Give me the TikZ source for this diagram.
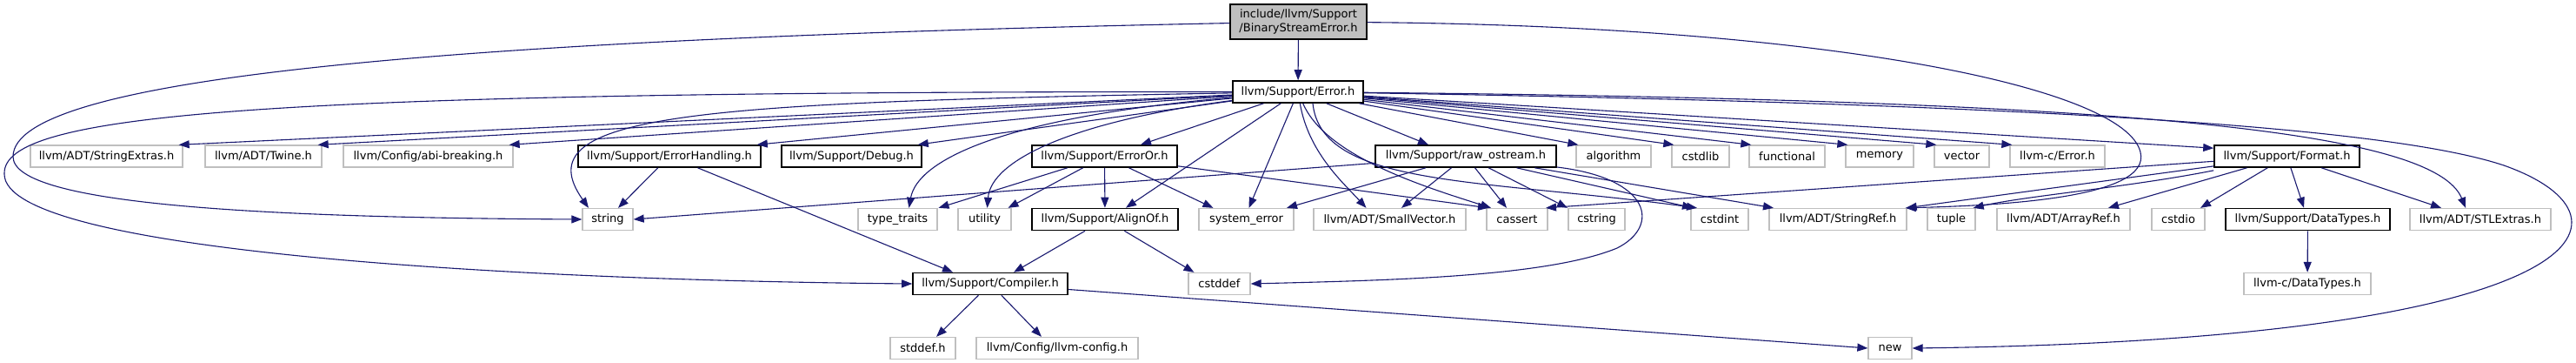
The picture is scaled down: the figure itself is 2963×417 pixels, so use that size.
\documentclass[tikz,border=0pt]{standalone}
\usepackage{fontspec}
\setmainfont{DejaVu Sans}
\usetikzlibrary{arrows.meta}
\definecolor{edgec}{HTML}{191970}
\definecolor{gborder}{HTML}{BFBFBF}
\begin{document}
\begin{tikzpicture}[x=1pt,y=-1pt,
  box/.style={draw=gborder,line width=1.3pt,fill=white,minimum height=25pt,inner sep=0pt,font=\fontsize{13}{16}\selectfont},
  bbox/.style={box,draw=black,line width=1.6pt},
  edge/.style={draw=edgec,line width=1.1pt,-{Triangle[length=12pt,width=9pt]}}]
\fill[white] (0,0) rectangle (2963,417);
\useasboundingbox (0,0) rectangle (2963,417);
% row 0
\node[bbox,fill=gborder,minimum width=157pt,minimum height=40pt,align=center] (bse) at (1493.5,25) {include/llvm/Support\\/BinaryStreamError.h};
\node[bbox,minimum width=150pt] (err) at (1493,105.5) {llvm/Support/Error.h};
% row 1
\node[box,minimum width=175pt] (strext) at (122.5,179.5) {llvm/ADT/StringExtras.h};
\node[box,minimum width=134pt] (twine) at (303,179.5) {llvm/ADT/Twine.h};
\node[box,minimum width=195pt] (abi) at (492.5,179.5) {llvm/Config/abi-breaking.h};
\node[bbox,minimum width=210pt] (errh) at (770,179.5) {llvm/Support/ErrorHandling.h};
\node[bbox,minimum width=161pt] (debug) at (979.5,179.5) {llvm/Support/Debug.h};
\node[bbox,minimum width=167pt] (erroror) at (1270.5,179.5) {llvm/Support/ErrorOr.h};
\node[bbox,minimum width=208pt] (rawos) at (1686,179.5) {llvm/Support/raw\_ostream.h};
\node[box,minimum width=86pt] (algorithm) at (1856,179.5) {algorithm};
\node[box,minimum width=66pt] (cstdlib) at (1956,179.5) {cstdlib};
\node[box,minimum width=87pt] (functional) at (2055.5,179.5) {functional};
\node[box,minimum width=78pt] (memory) at (2162,179.5) {memory};
\node[box,minimum width=63pt] (vector) at (2256.5,179.5) {vector};
\node[box,minimum width=109pt] (lcerror) at (2366.5,179.5) {llvm-c/Error.h};
\node[bbox,minimum width=167pt] (format) at (2630.5,179.5) {llvm/Support/Format.h};
% row 2
\node[box,minimum width=58pt] (string) at (699,252) {string};
\node[box,minimum width=91pt] (typetraits) at (1032.5,252) {type\_traits};
\node[box,minimum width=61pt] (utility) at (1132.5,252) {utility};
\node[bbox,minimum width=168pt] (alignof) at (1271,252) {llvm/Support/AlignOf.h};
\node[box,minimum width=109pt] (syserr) at (1433.5,252) {system\_error};
\node[box,minimum width=175pt] (smallvec) at (1598.5,252) {llvm/ADT/SmallVector.h};
\node[box,minimum width=70pt] (cassert) at (1745,252) {cassert};
\node[box,minimum width=65pt] (cstring) at (1836.5,252) {cstring};
\node[box,minimum width=66pt] (cstdint) at (1978,252) {cstdint};
\node[box,minimum width=158pt] (strref) at (2114,252) {llvm/ADT/StringRef.h};
\node[box,minimum width=55pt] (tuple) at (2244.5,252) {tuple};
\node[box,minimum width=153pt] (arrayref) at (2373.5,252) {llvm/ADT/ArrayRef.h};
\node[box,minimum width=61pt] (cstdio) at (2505.5,252) {cstdio};
\node[bbox,minimum width=189pt] (datatypes) at (2654.5,252) {llvm/Support/DataTypes.h};
\node[box,minimum width=162pt] (stlextras) at (2853,252) {llvm/ADT/STLExtras.h};
% row 3
\node[bbox,minimum width=178pt] (compiler) at (1139,326) {llvm/Support/Compiler.h};
\node[box,minimum width=71pt] (cstddef) at (1402.5,326) {cstddef};
\node[box,minimum width=146pt] (lcdatatypes) at (2654,326) {llvm-c/DataTypes.h};
% row 4
\node[box,minimum width=75pt] (stddef) at (1061.5,400) {stddef.h};
\node[box,minimum width=186pt] (llvmconfig) at (1216,400) {llvm/Config/llvm-config.h};
\node[box,minimum width=50pt] (new) at (2174,400) {new};
% edges from BinaryStreamError.h
\draw[edge] (bse) -- (err);
\draw[edge] (bse) .. controls (500,45) and (15,90) .. (15,180) .. controls (15,235) and (300,250) .. (string.west);
\draw[edge] (bse) .. controls (2100,30) and (2445,100) .. (2462,175) .. controls (2475,228) and (2300,236) .. ([xshift=-2pt]strref.north east);
% edges from Error.h
\draw[edge] (err) .. controls (300,105) and (2,130) .. (5,200) .. controls (5,290) and (600,322) .. (compiler.west);
\draw[edge] (err) -- ([xshift=-5pt]strext.north east);
\draw[edge] (err) -- ([xshift=-5pt]twine.north east);
\draw[edge] (err) -- ([xshift=-5pt]abi.north east);
\draw[edge] (err) -- ([xshift=-5pt]errh.north east);
\draw[edge] (err) -- ([xshift=-5pt]debug.north east);
\draw[edge] (err) .. controls (800,118) and (600,130) .. ([xshift=-22pt]string.north);
\draw[edge] (err) .. controls (1150,135) and (1055,185) .. ([xshift=13pt]typetraits.north);
\draw[edge] (err) .. controls (1230,140) and (1140,185) .. ([xshift=3pt]utility.north);
\draw[edge] (err) -- ([xshift=41.5pt]erroror.north);
\draw[edge] (err) -- ([xshift=24pt]alignof.north);
\draw[edge] (err) -- ([xshift=3pt]syserr.north);
\draw[edge] (err) .. controls (1505,175) and (1545,210) .. ([xshift=-27pt]smallvec.north);
\draw[edge] (err) .. controls (1525,180) and (1640,215) .. ([xshift=-30pt]cassert.north);
\draw[edge] (err) -- ([xshift=-43pt]rawos.north);
\draw[edge] (err) -- ([xshift=3pt]algorithm.north west);
\draw[edge] (err) -- ([xshift=3pt]cstdlib.north west);
\draw[edge] (err) -- ([xshift=3pt]functional.north west);
\draw[edge] (err) -- ([xshift=3pt]memory.north west);
\draw[edge] (err) -- ([xshift=3pt]vector.north west);
\draw[edge] (err) -- ([xshift=3pt]lcerror.north west);
\draw[edge] (err) -- ([yshift=-4pt]format.north west);
\draw[edge] ([xshift=17pt]err.south) .. controls (1520,215) and (1700,205) .. ([xshift=-26pt]cstdint.north);
\draw[edge] (err) .. controls (2450,115) and (2800,150) .. ([xshift=-17pt]stlextras.north);
\draw[edge] (err) .. controls (2400,120) and (2760,150) .. (2880,190) .. controls (3050,250) and (2990,390) .. (new.east);
% ErrorHandling.h
\draw[edge] (errh) -- ([xshift=12pt]string.north);
\draw[edge] (errh) -- ([xshift=-43pt]compiler.north);
% ErrorOr.h
\draw[edge] (erroror) -- ([xshift=47pt]typetraits.north);
\draw[edge] (erroror) -- ([xshift=27pt]utility.north);
\draw[edge] (erroror) -- (alignof);
\draw[edge] (erroror) -- ([xshift=-38pt]syserr.north);
\draw[edge] (erroror) -- ([xshift=-33pt]cassert.north);
% raw_ostream.h
\draw[edge] (rawos) -- (string.east);
\draw[edge] (rawos) -- ([xshift=46.5pt]syserr.north);
\draw[edge] (rawos) -- ([xshift=13.5pt]smallvec.north);
\draw[edge] (rawos) -- ([xshift=-12pt]cassert.north);
\draw[edge] (rawos) -- ([xshift=-33.5pt]cstring.north);
\draw[edge] (rawos) -- ([xshift=-31pt]cstdint.north);
\draw[edge] (rawos) -- ([xshift=-74pt]strref.north);
\draw[edge] (rawos) .. controls (1900,205) and (1910,260) .. (1860,285) .. controls (1780,318) and (1600,322) .. (cstddef.east);
% AlignOf.h
\draw[edge] (alignof) -- ([xshift=27pt]compiler.north);
\draw[edge] (alignof) -- ([xshift=-29pt]cstddef.north);
% Compiler.h
\draw[edge] (compiler) -- ([xshift=15.5pt]stddef.north);
\draw[edge] (compiler) -- ([xshift=-18pt]llvmconfig.north);
\draw[edge] (compiler) -- (new.west);
% Format.h
\draw[edge] (format) -- ([xshift=33pt]cassert.north);
\draw[edge] (format) -- ([xshift=-1pt]strref.north east);
\draw[edge] ([yshift=-3pt]format.south west) .. controls (2450,215) and (2330,225) .. ([xshift=-3pt]tuple.north east);
\draw[edge] (format) -- ([xshift=51.5pt]arrayref.north);
\draw[edge] (format) -- ([xshift=25.5pt]cstdio.north);
\draw[edge] (format) -- ([xshift=-4.5pt]datatypes.north);
\draw[edge] (format) -- ([xshift=-45pt]stlextras.north);
% DataTypes.h
\draw[edge] (datatypes) -- (lcdatatypes);
\end{tikzpicture}
\end{document}
